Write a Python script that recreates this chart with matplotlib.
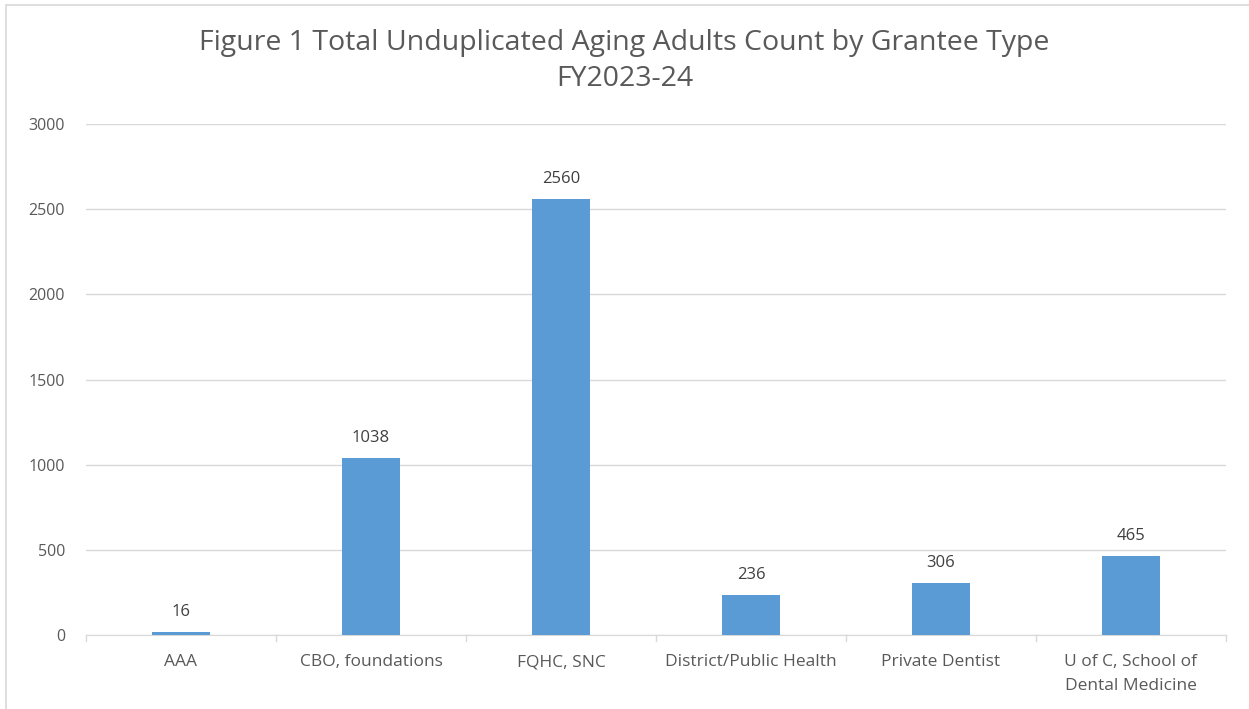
import matplotlib
matplotlib.use('Agg')
import matplotlib.pyplot as plt
import matplotlib.patches as mpatches
import numpy as np

# data
categories = ['AAA', 'CBO, foundations', 'FQHC, SNC', 'District/Public Health',
              'Private Dentist', 'U of C, School of\nDental Medicine']
counts = [16, 1038, 2560, 236, 306, 465]
yticks = [0, 500, 1000, 1500, 2000, 2500, 3000]

plt.rcParams['font.family'] = ['Open Sans', 'DejaVu Sans']
txt = '#595959'
grid = '#d9d9d9'

fig = plt.figure(figsize=(12.49, 7.09), dpi=100)
ax = fig.add_axes([86/1249, 1-635/709, (1226-86)/1249, (635-124)/709])

x = np.arange(len(categories))
ax.bar(x, counts, width=0.31, color='#5b9bd5', zorder=3)
for xi, v in zip(x, counts):
    ax.text(xi, v + 70, str(v), ha='center', va='bottom', fontsize=12, color='#404040')

ax.set_xlim(-0.5, len(categories) - 0.5)
ax.set_ylim(0, 3000)
ax.set_yticks(yticks)
ax.set_yticklabels([str(t) for t in yticks], fontsize=11.5, color=txt)
ax.yaxis.grid(True, color=grid, lw=1, zorder=0)
ax.tick_params(axis='y', length=0, pad=15)

ax.set_xticks(x)
ax.set_xticklabels(categories, fontsize=12.5, color=txt, linespacing=1.6)
ax.tick_params(axis='x', length=0, pad=14)
# category separators below the axis
for b in np.arange(-0.5, len(categories), 1):
    ax.plot([b, b], [0, -0.012], transform=ax.get_xaxis_transform(), color=grid,
            lw=1, clip_on=False)

for s in ['top', 'right', 'left']:
    ax.spines[s].set_visible(False)
ax.spines['bottom'].set_color(grid)

fig.text(0.5, 1-43/709, 'Figure 1 Total Unduplicated Aging Adults Count by Grantee Type',
         ha='center', va='center', fontsize=20.5, color=txt)
fig.text(0.5, 1-79/709, 'FY2023-24', ha='center', va='center', fontsize=20.5, color=txt)

# outer chart border
fig.patches.append(mpatches.Rectangle((6/1249, -0.01), 1.1, 1-5/709 + 0.01,
                                      transform=fig.transFigure, fill=False,
                                      edgecolor='#d9d9d9', lw=1.2))

plt.savefig('out.png', dpi=100)
